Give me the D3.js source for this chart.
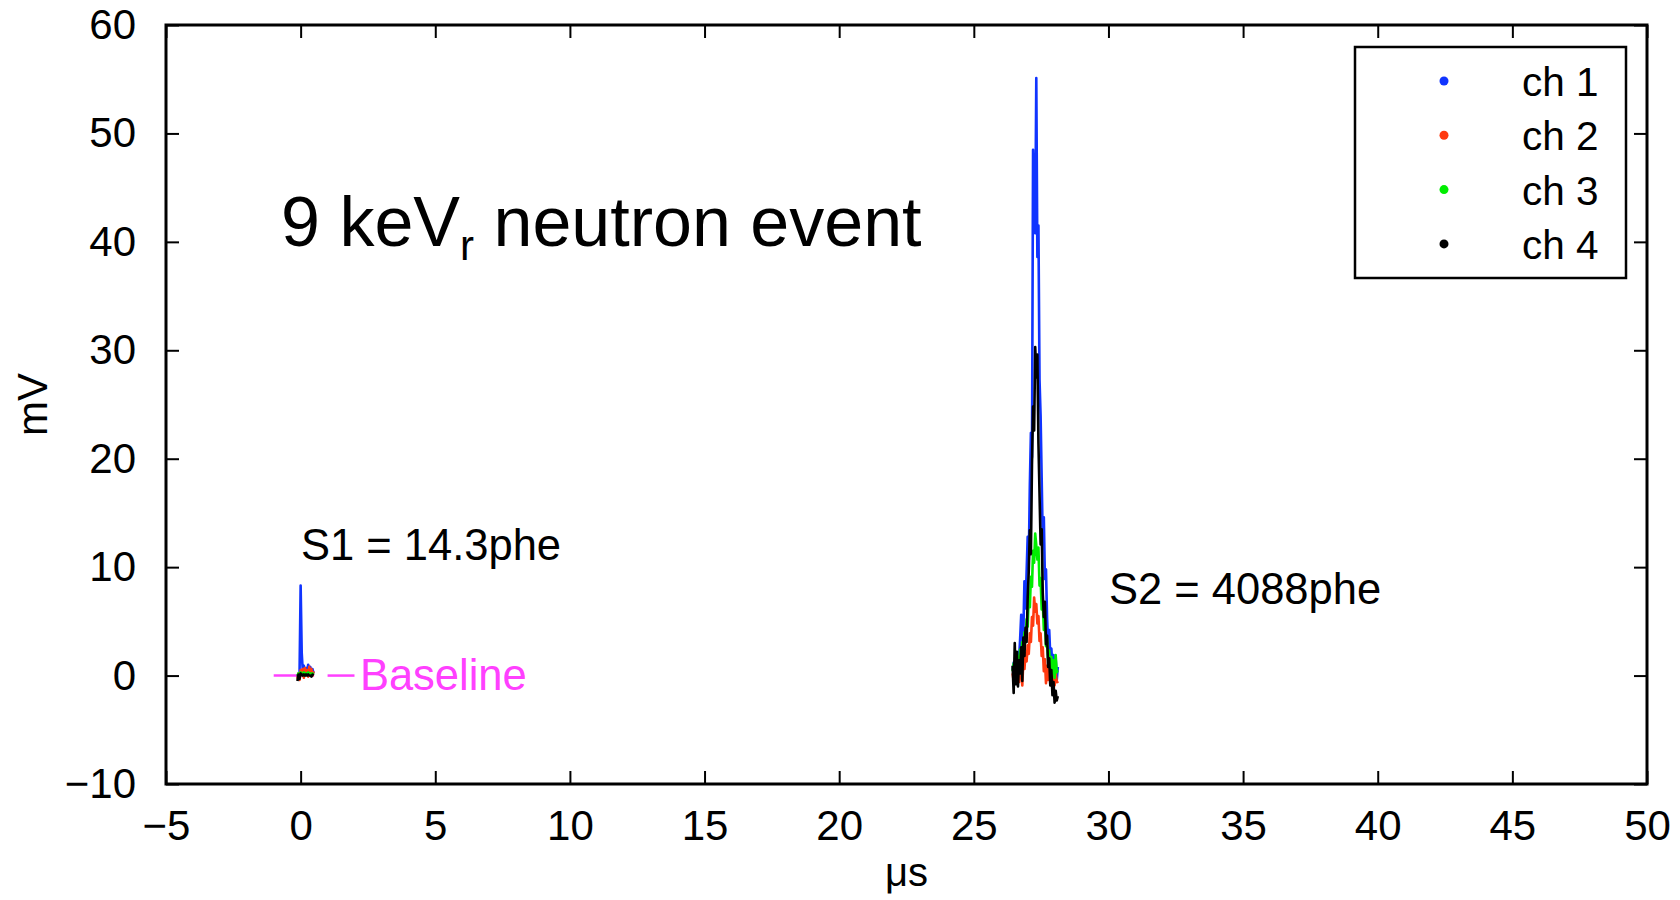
<!DOCTYPE html>
<html>
<head>
<meta charset="utf-8">
<title>9 keVr neutron event</title>
<script src="https://cdn.jsdelivr.net/npm/d3@7"></script>
<style>
    html, body { margin: 0; padding: 0; background: #fff; }
    svg { display: block; }
    text { font-family: "Liberation Sans", Arial, Helvetica, sans-serif; fill: #000; }
</style>
</head>
<body>
<svg id="chart" width="1680" height="900"></svg>
<script>
// axis ticks
var xTicks = [-5, 0, 5, 10, 15, 20, 25, 30, 35, 40, 45, 50];
var yTicks = [-10, 0, 10, 20, 30, 40, 50, 60];

// channel names / colours
var channelNames = ["ch 1", "ch 2", "ch 3", "ch 4"];
var channelColors = ["#1034ff", "#ff3a10", "#00ee00", "#000000"];

// S1 pulse samples (us, mV)
var s1Time = [-0.12, -0.08, -0.04, 0.00, 0.04, 0.08, 0.12, 0.16, 0.20, 0.24, 0.28, 0.32, 0.36, 0.40, 0.44, 0.48];
var ch1S1 = [0.1, -0.2, 0.3, 8.3, 2.1, 0.4, 0.9, 0.2, 0.7, 0.3, 1.0, 0.5, 0.8, 0.1, 0.6, 0.2];
var ch2S1 = [-0.3, 0.2, -0.4, 0.5, 0.1, 0.6, -0.2, 0.7, 0.2, 0.5, -0.1, 0.8, 0.3, 0.6, 0.0, 0.4];
var ch3S1 = [0.0, 0.2, -0.1, 0.3, 0.2, 0.1, 0.3, 0.0, 0.2, 0.1, 0.3, 0.1, 0.2, 0.0, 0.2, 0.1];
var ch4S1 = [-0.5, 0.1, -0.3, 0.2, 0.1, 0.0, 0.1, 0.0, 0.1, 0.0, 0.1, 0.0, 0.0, -0.1, 0.1, 0.0];

// S2 pulse samples (us, mV)
var s2Time = [26.44, 26.48, 26.52, 26.56, 26.60, 26.64, 26.68, 26.72, 26.76, 26.80,
              26.84, 26.88, 26.92, 26.96, 27.00, 27.04, 27.08, 27.12, 27.16, 27.20,
              27.24, 27.28, 27.32, 27.36, 27.40, 27.44, 27.48, 27.52, 27.56, 27.60,
              27.64, 27.68, 27.72, 27.76, 27.80, 27.84, 27.88, 27.92, 27.96, 28.00,
              28.04, 28.08, 28.12];
var ch1S2 = [0.5, 1.2, 0.3, 1.8, 0.9, 2.1, 1.5, 3.4, 5.6, 2.8,
             4.1, 8.7, 6.2, 9.5, 12.8, 10.6, 17.5, 22.4, 20.1, 48.5,
             44.2, 40.8, 55.1, 38.6, 41.5, 27.3, 24.0, 18.2, 12.5, 14.6,
             8.9, 9.8, 5.3, 3.0, 4.2, 1.8, 2.5, 0.6, 1.9, 0.4,
             1.6, -0.4, 0.8];
var ch2S2 = [0.2, -0.5, 0.8, -0.2, 1.0, 0.3, -0.6, 1.2, 0.5, -0.9,
             1.4, 0.6, 2.1, 1.3, 2.8, 2.0, 3.9, 3.1, 5.4, 4.6,
             7.2, 5.9, 6.6, 4.8, 5.5, 3.2, 3.9, 1.8, 2.6, 0.4,
             1.5, -0.7, 0.9, -0.4, 1.1, -0.8, 0.3, -0.6, 0.7, -0.9,
             0.2, -0.5, -0.7];
var ch3S2 = [0.4, 1.1, -0.3, 1.5, 0.2, 1.8, 0.9, 2.4, 1.6, 3.1,
             2.2, 4.0, 3.3, 5.2, 4.5, 7.4, 6.3, 9.1, 8.2, 11.5,
             10.4, 13.1, 12.0, 10.7, 11.8, 8.3, 9.0, 6.1, 6.9, 4.2,
             5.0, 2.7, 3.4, 1.5, 2.3, 0.6, 1.7, 0.2, 1.4, -0.2,
             1.9, 0.3, 0.5];
var ch4S2 = [0.9, -1.6, 3.0, -0.8, 2.2, -1.0, 1.4, 0.2, 2.6, -0.5,
             3.5, 1.8, 4.4, 3.1, 7.2, 9.6, 13.4, 11.2, 19.5, 24.8,
             22.6, 30.3, 27.5, 29.6, 21.4, 16.8, 12.1, 13.5, 7.6, 5.4,
             6.8, 2.9, 3.7, 0.8, 1.6, -0.9, 0.5, -1.8, -0.6, -2.5,
             -1.4, -2.3, -1.9];

// baseline marker
var baselineX = [-1, 0.5];
var baselineY = [0, 0];
var baselineKeyX = [1, 2];

var channels = channelNames.map(function(name, i) {
    return {
        name: name,
        color: channelColors[i],
        s1: [ch1S1, ch2S1, ch3S1, ch4S1][i],
        s2: [ch1S2, ch2S2, ch3S2, ch4S2][i]
    };
});

var margin = {left: 166, top: 25, right: 33, bottom: 116};
var width = 1680, height = 900;

var x = d3.scaleLinear().domain([-5, 50]).range([margin.left, width - margin.right]);
var y = d3.scaleLinear().domain([-10, 60]).range([height - margin.bottom, margin.top]);

var svg = d3.select("#chart");

svg.append("clipPath").attr("id", "plotclip")
    .append("rect")
    .attr("x", x(-5)).attr("y", y(60))
    .attr("width", x(50) - x(-5)).attr("height", y(-10) - y(60));

var plot = svg.append("g").attr("clip-path", "url(#plotclip)");

function pulseLine(times) {
    return d3.line()
        .x(function(d, i) { return x(times[i]); })
        .y(function(d) { return y(d); });
}

// baseline
var magenta = "#ff40ff";
plot.append("path")
    .attr("d", d3.line().x(function(d, i) { return x(baselineX[i]); }).y(function(d) { return y(d); })(baselineY))
    .attr("fill", "none").attr("stroke", magenta).attr("stroke-width", 2.5);

// traces
channels.forEach(function(ch) {
    plot.append("path")
        .attr("d", pulseLine(s1Time)(ch.s1))
        .attr("fill", "none").attr("stroke", ch.color)
        .attr("stroke-width", 2.6).attr("stroke-linejoin", "round");
    plot.append("path")
        .attr("d", pulseLine(s2Time)(ch.s2))
        .attr("fill", "none").attr("stroke", ch.color)
        .attr("stroke-width", 2.6).attr("stroke-linejoin", "round");
});

// axes (ticks inside, mirrored on all sides)
var tickLen = 13;
var fmt = function(d) { return d < 0 ? "\u2212" + Math.abs(d) : String(d); };

svg.append("g")
    .attr("transform", "translate(0," + y(-10) + ")")
    .call(d3.axisBottom(x).tickValues(xTicks).tickSizeInner(-tickLen).tickSizeOuter(0).tickPadding(26).tickFormat(fmt))
    .call(function(g) {
        g.select(".domain").remove();
        g.selectAll("line").attr("stroke-width", 2);
        g.selectAll("text").attr("font-size", 42).attr("font-family", "Liberation Sans, Arial, sans-serif");
    });
svg.append("g")
    .attr("transform", "translate(0," + y(60) + ")")
    .call(d3.axisTop(x).tickValues(xTicks).tickSizeInner(-tickLen).tickSizeOuter(0).tickFormat(""))
    .call(function(g) { g.select(".domain").remove(); g.selectAll("line").attr("stroke-width", 2); });
svg.append("g")
    .attr("transform", "translate(" + x(-5) + ",0)")
    .call(d3.axisLeft(y).tickValues(yTicks).tickSizeInner(-tickLen).tickSizeOuter(0).tickPadding(30).tickFormat(fmt))
    .call(function(g) {
        g.select(".domain").remove();
        g.selectAll("line").attr("stroke-width", 2);
        g.selectAll("text").attr("font-size", 42).attr("font-family", "Liberation Sans, Arial, sans-serif");
    });
svg.append("g")
    .attr("transform", "translate(" + x(50) + ",0)")
    .call(d3.axisRight(y).tickValues(yTicks).tickSizeInner(-tickLen).tickSizeOuter(0).tickFormat(""))
    .call(function(g) { g.select(".domain").remove(); g.selectAll("line").attr("stroke-width", 2); });

// frame
svg.append("rect")
    .attr("x", x(-5)).attr("y", y(60))
    .attr("width", x(50) - x(-5)).attr("height", y(-10) - y(60))
    .attr("fill", "none").attr("stroke", "#000").attr("stroke-width", 3);

// axis labels
svg.append("text")
    .attr("x", x(22.5)).attr("y", 886)
    .attr("text-anchor", "middle").attr("font-size", 40)
    .text("\u03bcs");
svg.append("text")
    .attr("transform", "translate(47," + y(25) + ") rotate(-90)")
    .attr("text-anchor", "middle").attr("font-size", 42)
    .text("mV");

// title annotation
var title = svg.append("text")
    .attr("x", 281).attr("y", 246)
    .attr("font-family", "Lato, 'Open Sans', sans-serif")
    .attr("font-size", 70);
title.append("tspan").text("9 keV");
title.append("tspan").attr("font-size", 42).attr("dy", 14).text("r");
title.append("tspan").attr("dy", -14).text(" neutron event");

// pulse annotations
svg.append("text").attr("x", 301).attr("y", 560).attr("font-size", 43.5).text("S1 = 14.3phe");
svg.append("text").attr("x", 1109).attr("y", 604).attr("font-size", 43.5).text("S2 = 4088phe");

svg.append("path")
    .attr("d", d3.line().x(function(d) { return x(d); }).y(function() { return y(0); })(baselineKeyX))
    .attr("stroke", magenta).attr("stroke-width", 2.5);
svg.append("text").attr("x", x(2.2)).attr("y", 690)
    .attr("font-size", 43.5).attr("fill", magenta).style("fill", magenta)
    .text("Baseline");

// legend
var legend = svg.append("g");
legend.append("rect")
    .attr("x", 1355).attr("y", 47).attr("width", 271).attr("height", 231)
    .attr("fill", "#fff").attr("stroke", "#000").attr("stroke-width", 2.5);
var rows = legend.selectAll("g.row").data(channels).enter().append("g")
    .attr("transform", function(d, i) { return "translate(0," + (81 + i * 54.3) + ")"; });
rows.append("circle").attr("cx", 1444).attr("cy", 0).attr("r", 4.5)
    .attr("fill", function(d) { return d.color; });
rows.append("text").attr("x", 1522).attr("y", 15).attr("font-size", 40.5)
    .text(function(d) { return d.name; });
</script>
</body>
</html>
